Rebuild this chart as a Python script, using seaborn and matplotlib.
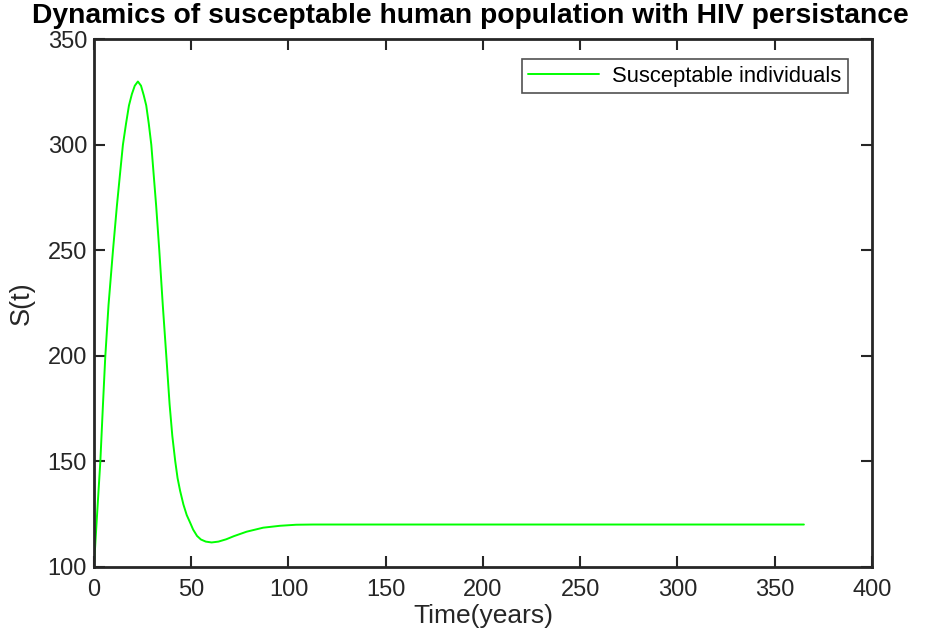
import matplotlib
matplotlib.use("Agg")
import matplotlib.pyplot as plt
import seaborn as sns
import pandas as pd

# Data
time_years = [0, 1.5, 3.3, 4.6, 5.8, 7.5, 9.8, 11.8, 13.5, 14.9, 16.5, 18, 19.5, 21,
              22.6, 24.2, 25.6, 26.9, 28.2, 29.5, 32, 33.6, 35.4, 37.2, 38.9, 40.3,
              41.8, 43, 44.3, 46, 47.7, 49.5, 51, 53, 55, 57.5, 60.5, 64, 68, 72,
              78.5, 87, 95.6, 104, 112.7, 130, 200, 300, 365]
susceptible = [100, 123, 150, 176, 199, 224, 250, 271, 287, 300, 310, 318.6, 324, 328,
               330, 328, 323.5, 318.6, 310, 300, 271, 250, 224, 200, 177, 162,
               150, 142, 136, 129.5, 124.5, 120.8, 117.6, 114.6, 112.9, 111.9, 111.5, 111.9, 113, 114.5,
               116.6, 118.5, 119.4, 119.9, 120, 120, 120, 120, 120]

x_ticks = [0, 50, 100, 150, 200, 250, 300, 350, 400]
y_ticks = [100, 150, 200, 250, 300, 350]

title_text = "Dynamics of susceptable human population with HIV persistance"
legend_label = "Susceptable individuals"

sns.set_style("white")
plt.rcParams['font.family'] = ['Liberation Sans', 'DejaVu Sans']

df = pd.DataFrame({"Time": time_years, "S": susceptible})

fig = plt.figure(figsize=(9.3, 6.32), dpi=100)
ax = fig.add_axes([0.101, 0.1033, 0.8366, 0.8345])

sns.lineplot(data=df, x="Time", y="S", ax=ax, color="#00ff00", linewidth=1.4,
             label=legend_label, sort=False)

ax.set_xlim(0, 400)
ax.set_ylim(100, 350)
ax.set_xticks(x_ticks)
ax.set_yticks(y_ticks)
ax.tick_params(direction="in", length=8, width=1.5, colors="#262626",
               labelsize=17, top=True, right=True, bottom=True, left=True)
ax.tick_params(axis="x", pad=9)
ax.tick_params(axis="y", pad=5)
for s in ax.spines.values():
    s.set_linewidth(2)
    s.set_color("#262626")
    s.set_visible(True)

ax.set_xlabel("Time(years)", fontsize=19, color="#262626", labelpad=2)
ax.set_ylabel("S(t)", fontsize=19.5, color="#262626", labelpad=9)
fig.text(0.506, 0.963, title_text, fontsize=20.3, fontweight="bold", color="black",
         ha="center", va="baseline")

leg = ax.legend(loc="upper left", bbox_to_anchor=(0.550, 0.9627), fontsize=15.8,
                frameon=True, fancybox=False, handlelength=3.2, borderpad=0.3,
                handletextpad=0.6, borderaxespad=0)
leg.get_frame().set_edgecolor("#262626")
leg.get_frame().set_linewidth(1.2)
for t in leg.get_texts():
    t.set_color("black")

fig.savefig("out.png", dpi=100, facecolor="white")
